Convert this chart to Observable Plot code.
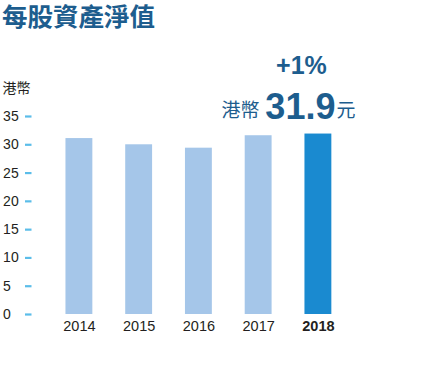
<!DOCTYPE html>
<html>
<head>
<meta charset="utf-8">
<script src="https://cdn.jsdelivr.net/npm/d3@7"></script>
<script src="https://cdn.jsdelivr.net/npm/@observablehq/plot@0.6"></script>
<style>
  body { margin: 0; background: #fff; font-family: "Liberation Sans", "Noto Sans CJK TC", sans-serif; }
  #wrap { position: relative; width: 432px; height: 380px; overflow: hidden; }
  #title { position: absolute; left: 2px; top: 0px; font-size: 25.5px; font-weight: bold; color: #1d5d8e;
           font-family: "Noto Sans CJK TC", sans-serif; line-height: 30px; white-space: nowrap; }
  #chart { position: absolute; left: 0; top: 38px; }
</style>
</head>
<body>
<div id="wrap">
  <div id="title">每股資產淨值</div>
  <div id="chart"></div>
</div>
<script>
const years = ["2014", "2015", "2016", "2017", "2018"];
const values = [31.1, 30.0, 29.4, 31.6, 31.9];
const yTicks = [0, 5, 10, 15, 20, 25, 30, 35];
const unitLabel = "港幣";
const changeLabel = "+1%";
const valuePrefix = "港幣";
const valueText = "31.9";
const valueSuffix = "元";

const data = years.map((y, i) => ({year: y, value: values[i], highlight: i === years.length - 1}));
const W = 432, H = 342, ML = 32.6, MR = 67.8, MT = 78, MB = 66;
const font = '"Liberation Sans", "Noto Sans CJK TC", sans-serif';
const cjk = '"Noto Sans CJK TC", sans-serif';
const navy = "#1d5d8e";
const last = years[years.length - 1];

const plot = Plot.plot({
  width: W, height: H,
  marginLeft: ML, marginRight: MR, marginTop: MT, marginBottom: MB,
  style: {fontFamily: font, background: "#fff", overflow: "visible"},
  x: {domain: years, padding: 0.55, round: false, axis: null},
  y: {domain: [0, 35], axis: null},
  marks: [
    Plot.barY(data, {x: "year", y: "value", fill: d => d.highlight ? "#1a8ad0" : "#a5c6e9"}),
    Plot.tickY(yTicks, {y: d => d, stroke: "#5bbde9", strokeWidth: 2.2, insetRight: W - ML - MR - 6.5, dx: -7.6}),
    Plot.text(yTicks, {y: d => d, text: d => String(d), frameAnchor: "left", textAnchor: "start", dx: -30, fontSize: 14, fill: "#231f20"}),
    Plot.text([unitLabel], {text: d => d, frameAnchor: "top-left", textAnchor: "start", dx: -30.5, dy: -33, fontSize: 14, fill: "#231f20", fontFamily: cjk}),
    Plot.text(data.filter(d => !d.highlight), {x: "year", text: "year", frameAnchor: "bottom", lineAnchor: "middle", dy: 12, fontSize: 14.5, fill: "#231f20"}),
    Plot.text(data.filter(d => d.highlight), {x: "year", text: "year", frameAnchor: "bottom", lineAnchor: "middle", dy: 12, fontSize: 14.5, fontWeight: "bold", fill: "#231f20"}),
    Plot.text([changeLabel], {x: () => last, text: d => d, frameAnchor: "top", lineAnchor: "bottom", dx: -17, dy: -43, fontSize: 25, fontWeight: "bold", fill: navy}),
    Plot.text([valuePrefix], {x: () => last, text: d => d, frameAnchor: "top", textAnchor: "end", lineAnchor: "bottom", dx: -59, dy: 0, fontSize: 19, fill: navy, fontFamily: cjk}),
    Plot.text([valueText], {x: () => last, text: d => d, frameAnchor: "top", textAnchor: "middle", lineAnchor: "bottom", dx: -18, dy: 2, fontSize: 36, fontWeight: "bold", fill: navy}),
    Plot.text([valueSuffix], {x: () => last, text: d => d, frameAnchor: "top", textAnchor: "start", lineAnchor: "bottom", dx: 18, dy: 0, fontSize: 19, fill: navy, fontFamily: cjk})
  ]
});
document.getElementById("chart").appendChild(plot);
</script>
</body>
</html>
